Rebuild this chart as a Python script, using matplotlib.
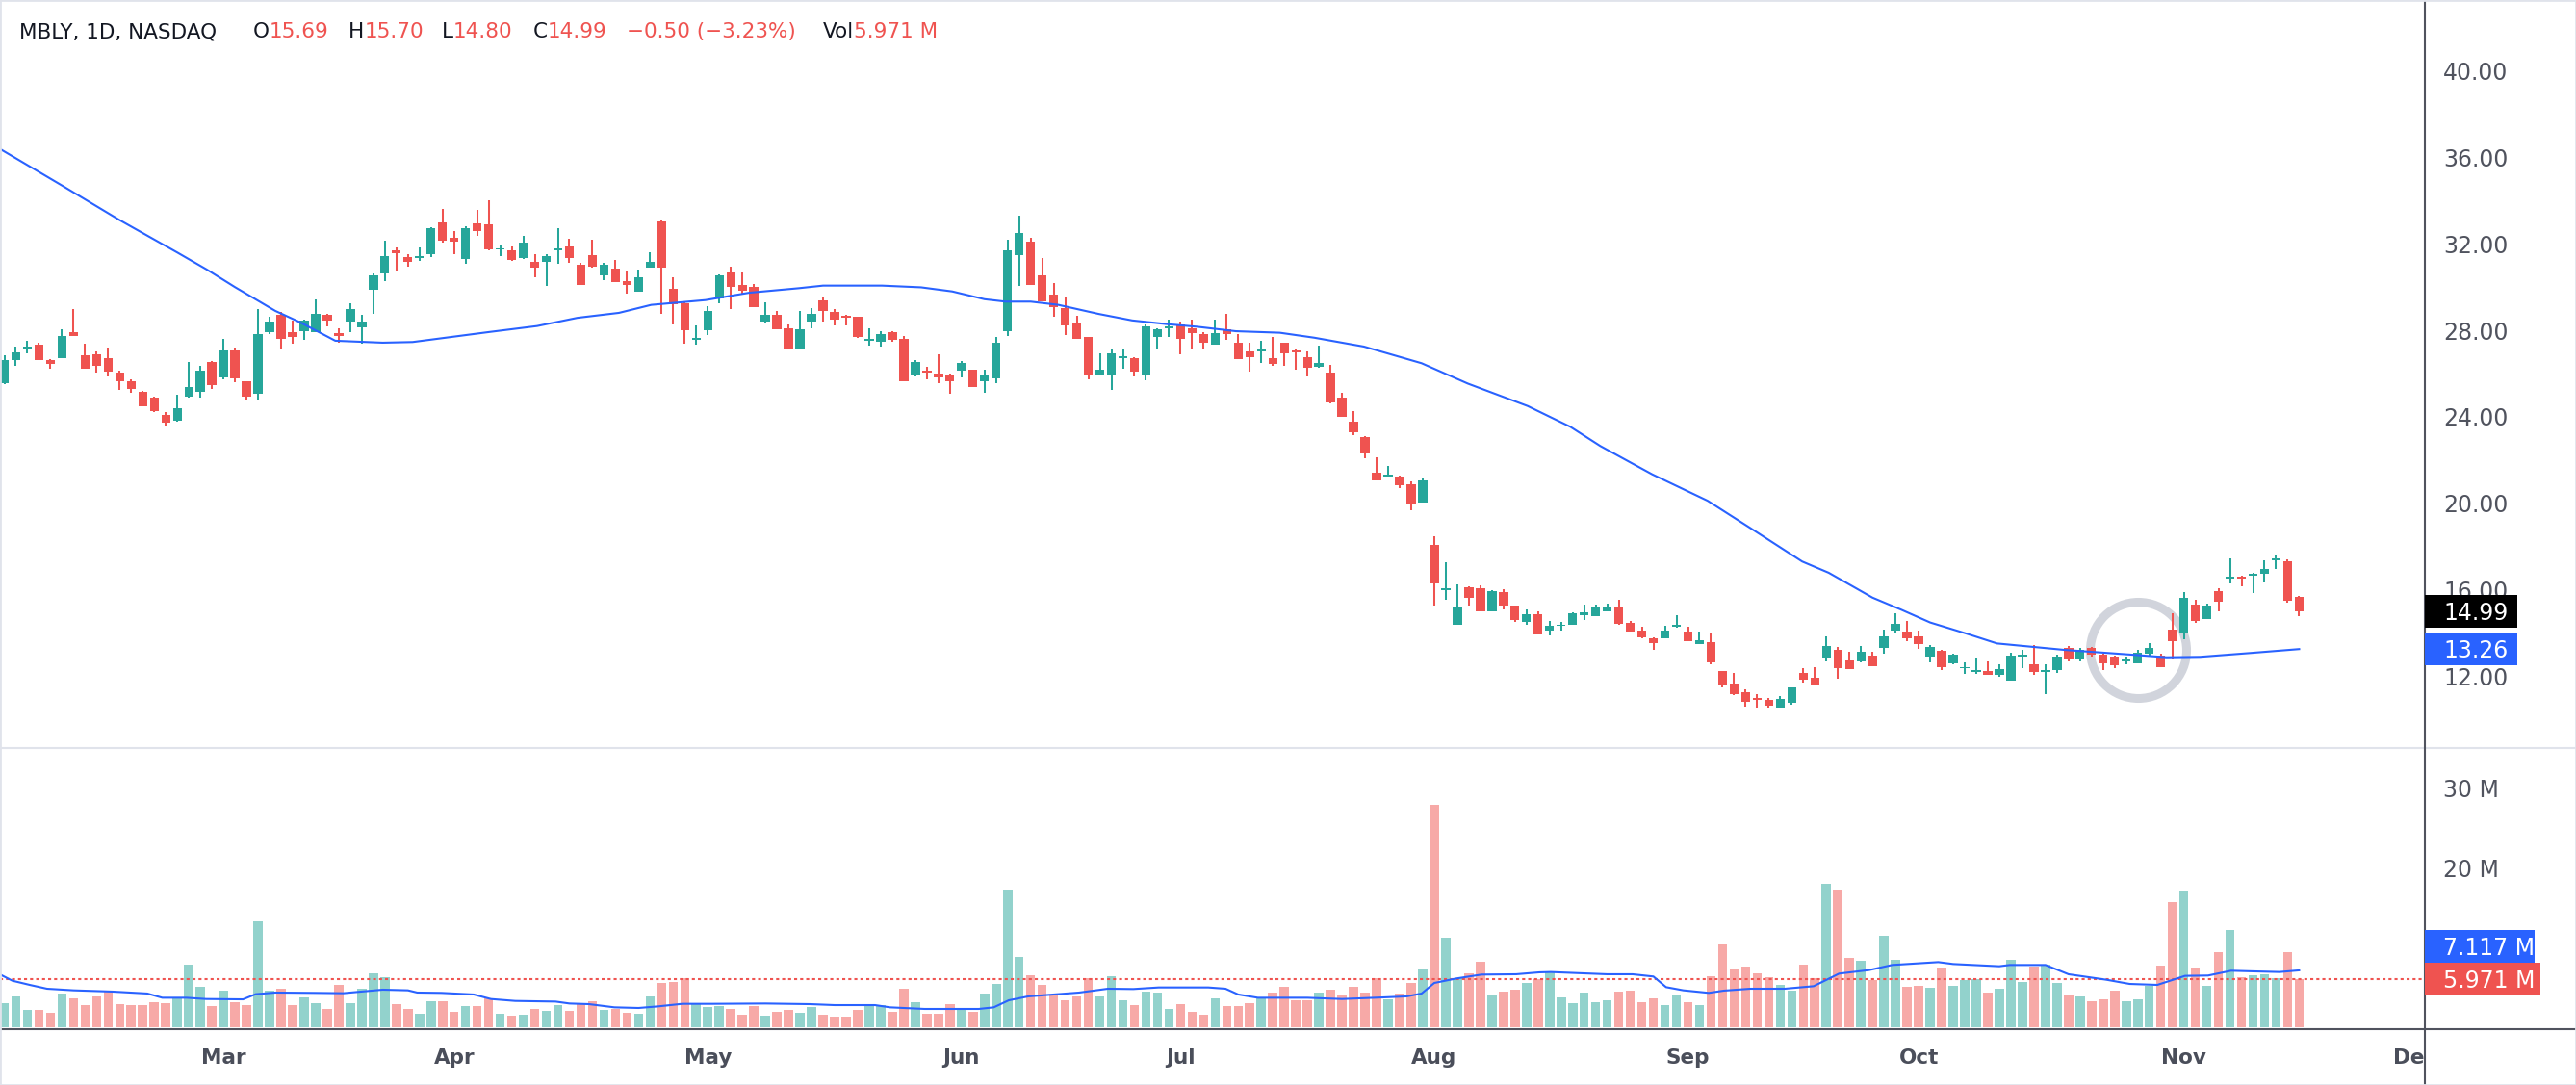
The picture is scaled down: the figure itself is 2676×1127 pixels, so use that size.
import matplotlib
matplotlib.use('Agg')
import matplotlib.pyplot as plt
from matplotlib.lines import Line2D
from matplotlib.patches import Rectangle
import numpy as np
import pandas as pd

W, H, DPI = 2676, 1127, 100

# --- data (MBLY daily) ---
holidays = ['2024-02-19', '2024-03-29', '2024-05-27', '2024-06-19',
            '2024-07-04', '2024-09-02', '2024-11-28']
dates = pd.bdate_range('2024-02-02', '2024-11-15', freq='C', holidays=holidays)
future = pd.bdate_range('2024-11-18', '2024-12-31', freq='C', holidays=holidays)

opens = [
    25.54, 26.61, 27.13, 27.34, 26.61, 26.73, 27.92, 26.85, 26.89, 26.71,
    26.05, 25.65, 25.16, 24.89, 24.09, 23.84, 24.93, 25.17, 26.55, 25.84,
    27.07, 25.65, 25.08, 27.92, 28.72, 27.92, 27.95, 27.90, 28.72, 27.87,
    28.42, 28.14, 29.89, 30.65, 31.70, 31.37, 31.35, 31.54, 32.99, 32.28,
    31.31, 32.95, 32.90, 31.73, 31.70, 31.35, 31.17, 31.18, 31.72, 31.88,
    31.03, 31.48, 30.56, 30.85, 30.28, 29.80, 30.91, 33.04, 29.92, 29.25,
    27.58, 28.02, 29.47, 30.68, 30.10, 30.01, 28.42, 28.71, 28.09, 27.17,
    28.42, 29.39, 28.85, 28.67, 28.63, 27.53, 27.49, 27.92, 27.60, 25.93,
    26.14, 26.00, 25.91, 26.15, 26.18, 25.66, 25.79, 27.98, 31.49, 32.10,
    30.54, 29.65, 29.03, 28.32, 27.69, 25.97, 25.97, 26.73, 26.71, 25.93,
    27.71, 28.11, 28.27, 28.09, 27.83, 27.35, 28.05, 27.43, 27.03, 27.04,
    26.71, 27.43, 27.07, 26.76, 26.33, 26.05, 24.90, 23.78, 23.06, 21.42,
    21.25, 21.24, 20.88, 20.05, 18.08, 16.00, 14.40, 16.12, 16.07, 15.02,
    15.90, 15.27, 14.53, 14.87, 14.13, 14.32, 14.40, 14.84, 14.80, 15.02,
    15.23, 14.47, 14.11, 13.77, 13.77, 14.31, 14.07, 13.51, 13.58, 12.23,
    11.66, 11.25, 11.00, 10.92, 10.57, 10.78, 12.16, 11.93, 12.88, 13.22,
    12.74, 12.70, 12.96, 13.33, 14.13, 14.07, 13.85, 12.93, 13.18, 12.62,
    12.36, 12.22, 12.25, 12.08, 11.82, 12.90, 12.56, 12.19, 12.30, 13.31,
    12.84, 13.31, 13.02, 12.91, 12.71, 12.62, 13.05, 12.96, 14.16, 14.00,
    15.32, 14.66, 15.94, 16.53, 16.61, 16.67, 16.76, 17.37, 17.32, 15.69]
highs = [
    26.83, 27.25, 27.52, 27.43, 26.65, 28.05, 28.99, 27.38, 27.03, 27.20,
    26.14, 25.73, 25.22, 24.93, 24.22, 25.02, 26.54, 26.36, 26.58, 27.60,
    27.20, 25.65, 28.99, 28.63, 28.87, 28.45, 28.50, 29.43, 28.76, 28.09,
    29.27, 28.72, 30.63, 32.15, 31.83, 31.52, 31.83, 32.78, 33.62, 32.59,
    32.81, 33.57, 34.02, 31.97, 31.88, 32.37, 31.52, 31.52, 32.73, 32.24,
    31.12, 32.19, 31.12, 31.26, 30.77, 30.81, 31.61, 33.08, 30.45, 29.34,
    28.21, 29.10, 30.59, 30.94, 30.68, 30.14, 29.30, 28.88, 28.27, 28.88,
    29.03, 29.50, 28.97, 28.72, 28.63, 28.08, 27.96, 27.96, 27.74, 26.63,
    26.31, 26.89, 26.00, 26.58, 26.18, 26.18, 27.69, 32.19, 33.30, 32.28,
    31.34, 30.19, 29.52, 28.67, 27.69, 26.94, 27.16, 27.11, 26.76, 28.27,
    28.09, 28.49, 28.40, 28.49, 27.92, 28.49, 28.76, 27.83, 27.43, 27.52,
    27.69, 27.43, 27.16, 27.03, 27.29, 26.40, 25.11, 24.27, 23.11, 22.13,
    21.73, 21.28, 21.02, 21.15, 18.48, 17.28, 16.27, 16.16, 16.21, 16.00,
    16.03, 15.27, 15.09, 15.01, 14.56, 14.53, 14.96, 15.32, 15.32, 15.36,
    15.54, 14.56, 14.29, 13.82, 14.34, 14.83, 14.29, 14.07, 13.98, 12.26,
    12.16, 11.40, 11.18, 11.00, 11.09, 11.49, 12.38, 12.42, 13.85, 13.36,
    13.14, 13.40, 13.14, 14.16, 14.92, 14.56, 14.11, 13.46, 13.22, 13.05,
    12.64, 12.87, 12.69, 12.56, 13.09, 13.22, 13.45, 12.56, 13.00, 13.40,
    13.31, 13.36, 13.06, 12.96, 12.93, 13.22, 13.54, 13.05, 14.90, 15.90,
    15.54, 15.36, 16.07, 17.46, 16.65, 16.79, 17.37, 17.63, 17.41, 15.70]
lows = [
    25.50, 26.36, 26.92, 26.62, 26.24, 26.73, 27.74, 26.24, 26.06, 25.88,
    25.26, 25.13, 24.50, 24.24, 23.57, 23.79, 24.87, 24.90, 25.30, 25.75,
    25.62, 24.81, 24.81, 27.84, 27.17, 27.40, 27.58, 27.90, 28.20, 27.44,
    27.93, 27.40, 28.78, 30.29, 30.74, 30.96, 31.23, 31.40, 32.07, 31.54,
    31.09, 32.38, 31.70, 31.45, 31.23, 31.30, 30.47, 30.07, 31.09, 31.14,
    30.11, 30.91, 30.34, 30.25, 29.71, 29.80, 30.91, 28.78, 28.29, 27.40,
    27.35, 27.80, 29.25, 29.00, 29.70, 29.09, 28.32, 28.06, 27.13, 27.17,
    28.11, 28.42, 28.24, 28.24, 27.65, 27.31, 27.26, 27.49, 25.66, 25.88,
    25.75, 25.57, 25.08, 25.84, 25.39, 25.13, 25.57, 27.75, 30.07, 30.11,
    29.36, 28.64, 27.80, 27.62, 25.75, 25.97, 25.26, 26.24, 25.88, 25.70,
    27.17, 27.71, 26.91, 27.17, 27.17, 27.35, 27.57, 26.69, 26.11, 26.51,
    26.37, 26.37, 26.20, 25.88, 26.28, 24.64, 24.01, 23.17, 22.10, 21.08,
    21.25, 20.72, 19.70, 20.05, 15.29, 15.55, 14.40, 15.29, 14.99, 15.02,
    15.09, 14.53, 14.40, 13.95, 13.91, 14.13, 14.40, 14.62, 14.80, 15.02,
    14.40, 14.09, 13.76, 13.24, 13.77, 14.26, 13.64, 13.51, 12.56, 11.49,
    11.15, 10.61, 10.57, 10.57, 10.57, 10.70, 11.71, 11.64, 12.70, 11.90,
    12.35, 12.66, 12.48, 13.06, 13.99, 13.64, 13.28, 12.66, 12.30, 12.56,
    12.12, 12.13, 12.08, 11.99, 11.82, 12.39, 12.08, 11.19, 12.17, 12.70,
    12.70, 12.93, 12.30, 12.39, 12.57, 12.62, 12.93, 12.44, 12.80, 13.73,
    14.49, 14.66, 15.02, 16.31, 16.18, 15.87, 16.36, 16.98, 15.42, 14.80]
closes = [
    26.61, 26.98, 27.25, 26.62, 26.46, 27.74, 27.74, 26.24, 26.37, 26.11,
    25.66, 25.30, 24.50, 24.27, 23.75, 24.40, 25.38, 26.14, 25.48, 27.07,
    25.79, 24.95, 27.83, 28.41, 27.62, 27.71, 28.45, 28.76, 28.47, 27.75,
    28.99, 28.41, 30.54, 31.43, 31.58, 31.18, 31.43, 32.73, 32.15, 32.12,
    32.73, 32.61, 31.75, 31.79, 31.27, 32.06, 30.91, 31.43, 31.79, 31.36,
    30.11, 30.96, 31.03, 30.25, 30.11, 30.45, 31.17, 30.91, 29.22, 28.02,
    27.65, 28.88, 30.54, 30.02, 29.83, 29.09, 28.71, 28.06, 27.13, 28.05,
    28.76, 28.91, 28.51, 28.60, 27.69, 27.59, 27.83, 27.57, 25.66, 26.54,
    26.06, 25.84, 25.66, 26.49, 25.39, 25.96, 27.43, 31.70, 32.50, 30.11,
    29.36, 29.09, 28.24, 27.62, 25.97, 26.18, 26.94, 26.80, 26.11, 28.18,
    28.05, 28.18, 27.62, 27.89, 27.44, 27.87, 27.84, 26.69, 26.77, 27.11,
    26.46, 26.95, 27.00, 26.28, 26.49, 24.68, 24.01, 23.30, 22.32, 21.08,
    21.33, 20.85, 20.01, 21.06, 16.31, 16.09, 15.23, 15.64, 14.99, 15.96,
    15.27, 14.62, 14.87, 13.95, 14.34, 14.40, 14.92, 14.96, 15.23, 15.23,
    14.43, 14.09, 13.80, 13.55, 14.11, 14.40, 13.64, 13.67, 12.66, 11.58,
    11.19, 10.84, 10.92, 10.63, 10.95, 11.49, 11.86, 11.64, 13.40, 12.39,
    12.35, 13.14, 12.48, 13.85, 14.43, 13.74, 13.47, 13.35, 12.44, 13.00,
    12.43, 12.29, 12.08, 12.33, 12.96, 12.97, 12.20, 12.26, 12.91, 12.84,
    13.22, 13.02, 12.62, 12.53, 12.80, 13.09, 13.31, 12.44, 13.64, 15.63,
    14.58, 15.27, 15.47, 16.61, 16.53, 16.74, 16.96, 17.44, 15.49, 14.99]
# volume in millions
volumes = [
    2.97, 3.82, 2.13, 2.13, 1.77, 4.18, 3.57, 2.73, 3.82, 4.42,
    2.85, 2.73, 2.73, 3.09, 2.97, 3.57, 7.79, 5.02, 2.61, 4.54,
    3.09, 2.73, 13.21, 4.54, 4.78, 2.73, 3.69, 2.97, 2.25, 5.26,
    2.97, 4.78, 6.71, 6.22, 2.85, 2.25, 1.65, 3.21, 3.21, 1.89,
    2.61, 2.61, 3.57, 1.65, 1.41, 1.53, 2.25, 2.01, 2.73, 2.01,
    2.97, 3.21, 2.13, 2.25, 1.77, 1.65, 3.82, 5.50, 5.62, 6.10,
    2.85, 2.49, 2.61, 2.25, 1.53, 2.61, 1.41, 1.89, 2.13, 1.77,
    2.49, 1.53, 1.29, 1.29, 2.13, 2.73, 2.73, 1.89, 4.78, 3.09,
    1.65, 1.65, 2.85, 2.25, 1.89, 4.18, 5.38, 17.19, 8.76, 6.47,
    5.26, 4.06, 3.33, 3.82, 6.10, 3.82, 6.35, 3.33, 2.73, 4.42,
    4.30, 2.25, 2.85, 1.89, 1.53, 3.57, 2.61, 2.61, 2.97, 3.57,
    4.30, 5.02, 3.33, 3.33, 4.30, 4.66, 4.06, 5.02, 4.30, 6.10,
    3.45, 4.18, 5.50, 7.31, 27.79, 11.16, 6.10, 6.71, 8.15, 4.06,
    4.42, 4.66, 5.50, 5.98, 6.95, 3.69, 2.97, 4.30, 3.09, 3.33,
    4.42, 4.54, 3.09, 3.57, 2.73, 3.94, 3.09, 2.73, 6.35, 10.32,
    7.19, 7.55, 6.71, 6.22, 5.26, 4.54, 7.79, 6.10, 17.91, 17.19,
    8.63, 8.27, 5.86, 11.41, 8.39, 5.02, 5.14, 4.90, 7.43, 5.14,
    5.86, 5.98, 4.30, 4.78, 8.39, 5.62, 7.55, 7.79, 5.50, 3.94,
    3.82, 3.21, 3.45, 4.54, 3.21, 3.45, 5.14, 7.67, 15.62, 16.95,
    7.43, 5.14, 9.36, 12.13, 6.22, 6.47, 6.59, 6.10, 9.36, 5.971]

# moving average of price, sampled off the chart (x = bar index)
ma_x = [-0.4, 5, 10, 15, 17.6, 20, 23.5, 25.7, 28.7, 32.8, 35.4, 38.7, 42, 46.2,
        49.7, 53.3, 56.1, 60.8, 64.6, 68.9, 71.0, 76.1, 79.5, 82.2, 85.0, 86.8,
        89.0, 91.4, 94.9, 97.8, 100.8, 103.4, 106.8, 110.6, 113.6, 117.9, 122.9,
        126.9, 132.1, 135.8, 138.4, 142.9, 147.7, 151.4, 155.9, 158.2, 162.0,
        164.5, 167.0, 170.0, 172.8, 178.7, 184.5, 187.5, 190.4, 194.8, 199]
ma_price = [36.4, 34.7, 33.1, 31.6, 30.8, 30.0, 28.9, 28.36, 27.52, 27.43, 27.46,
            27.69, 27.92, 28.2, 28.58, 28.81, 29.18, 29.40, 29.74, 29.95, 30.07,
            30.07, 29.99, 29.80, 29.44, 29.33, 29.33, 29.18, 28.76, 28.46, 28.29,
            28.17, 27.96, 27.89, 27.66, 27.25, 26.48, 25.54, 24.50, 23.54, 22.65,
            21.34, 20.12, 18.86, 17.31, 16.79, 15.64, 15.08, 14.49, 14.0, 13.52,
            13.22, 13.00, 12.88, 12.90, 13.08, 13.26]
# moving average of volume (millions)
vma_x = [-0.4, 0.7, 2.2, 3.7, 6.0, 9.4, 12.4, 13.7, 15.8, 17.5, 20.7, 21.8, 23.5,
         26.9, 29.4, 32.8, 35.0, 35.8, 37.9, 40.7, 42.2, 44.3, 47.8, 49.0, 50.7,
         52.9, 55.0, 56.7, 58.8, 61.4, 66.0, 69.9, 72.0, 75.5, 76.8, 79.8, 84.5,
         85.8, 87.1, 88.8, 93.2, 95.7, 97.9, 100.1, 104.4, 105.9, 107.0, 108.7,
         113.0, 116.0, 119.5, 121.6, 122.9, 124.0, 125.9, 128.1, 131.1, 133.1,
         134.1, 139.0, 141.2, 143.0, 144.1, 145.6, 147.8, 149.1, 151.4, 154.4,
         156.9, 159.1, 161.7, 163.7, 167.7, 169.0, 173.0, 173.9, 177.0, 179.0,
         182.3, 184.3, 186.7, 189.1, 191.1, 193.1, 195.1, 197.3, 199.0]
vma_vol = [6.63, 5.82, 5.30, 4.82, 4.62, 4.46, 4.22, 3.69, 3.69, 3.53, 3.49, 4.14,
           4.34, 4.30, 4.26, 4.70, 4.62, 4.34, 4.30, 4.10, 3.53, 3.29, 3.21, 2.97,
           2.89, 2.49, 2.41, 2.61, 2.93, 2.93, 2.97, 2.89, 2.77, 2.77, 2.49, 2.29,
           2.29, 2.49, 3.37, 3.86, 4.34, 4.82, 4.78, 4.98, 4.98, 4.82, 4.10, 3.69,
           3.69, 3.53, 3.73, 3.86, 4.22, 5.54, 6.10, 6.59, 6.63, 6.87, 6.91, 6.63,
           6.63, 6.35, 5.02, 4.62, 4.30, 4.58, 4.82, 4.82, 5.14, 6.71, 7.15, 7.79,
           8.15, 7.91, 7.63, 7.79, 7.79, 6.63, 5.94, 5.42, 5.30, 6.43, 6.47, 7.07,
           6.99, 6.91, 7.117]

last_price, last_ma = 14.99, 13.26
last_vol, last_vma = 5.971, 7.117
price_ticks = [12, 16, 20, 24, 28, 32, 36, 40]
vol_ticks = [20, 30]
circle_idx, circle_price = 185.0, 13.22
header = [("MBLY, 1D, NASDAQ", "", 20), ("O", "15.69", 263), ("H", "15.70", 362),
          ("L", "14.80", 459), ("C", "14.99", 554), ("", "\u22120.50 (\u22123.23%)", 651),
          ("Vol", "5.971 M", 855)]

# --- styling ---
TEAL, RED, BLUE = '#26A69A', '#EF5350', '#2962FF'
TEAL_V, RED_V = '#92D2CC', '#F7A9A7'
TXT, SCALE_TXT, DARK_LINE = '#131722', '#50535E', '#50535E'

opens, highs, lows, closes = map(np.array, (opens, highs, lows, closes))
volumes = np.array(volumes)
x = np.arange(len(dates))
up = closes >= opens

fig = plt.figure(figsize=(W / DPI, H / DPI), dpi=DPI)
fig.patch.set_facecolor('white')

def fy(py):
    return 1 - py / H

AXR = 2519
ax = fig.add_axes([0, fy(777), AXR / W, 777 / H])
axv = fig.add_axes([0, fy(1067), AXR / W, (1067 - 777) / H])
for a in (ax, axv):
    for s in a.spines.values():
        s.set_visible(False)
    a.set_xlim(-0.376, 209.9)
    a.set_xticks([])
    a.yaxis.tick_right()
    a.tick_params(axis='y', length=0, pad=13.7, labelsize=17, labelcolor=SCALE_TXT)

ax.set_ylim(8.683, 43.278)
ax.set_yticks(price_ticks)
ax.set_yticklabels([f'{t:.2f}' for t in price_ticks])
axv.set_ylim(0, 34.94)
axv.set_yticks(vol_ticks)
axv.set_yticklabels([f'{t} M' for t in vol_ticks])

# candles
ccol = np.where(up, TEAL, RED)
body_lo = np.minimum(opens, closes)
body_h = np.maximum(np.abs(closes - opens), 0.08)
ax.vlines(x, lows, highs, colors=ccol, linewidth=1.45, zorder=3)
ax.bar(x, body_h, bottom=body_lo, width=0.78, color=ccol, linewidth=0, zorder=4)
ax.plot(ma_x, ma_price, color=BLUE, lw=1.5, zorder=5)
ax.plot([circle_idx], [circle_price], marker='o', ms=72, mfc='none',
        mec='#D1D4DC', mew=6.5, zorder=1, clip_on=False)

# volume
axv.bar(x, volumes, width=0.8, color=np.where(up, TEAL_V, RED_V), linewidth=0, zorder=2)
axv.plot(vma_x, vma_vol, color=BLUE, lw=1.5, zorder=4)
axv.axhline(last_vol, color=RED, lw=1.5, linestyle=(0, (1.5, 1.5)), zorder=3)

# month labels
all_days = dates.append(future)
months = pd.Series(np.arange(len(all_days)), index=all_days)
firsts = months.groupby([all_days.year, all_days.month]).first()
for idx in firsts.values[1:]:
    if idx > 215:
        break
    xd = ax.transData.transform((idx, 0))[0]
    fig.text(xd / W, fy(1105), all_days[idx].strftime('%b'), ha='center', va='baseline',
             fontsize=15.5, fontweight='bold', color='#4A4E5A', zorder=3)

# cover to clip the partial "Dec" label at the price scale
fig.add_artist(Rectangle((AXR / W, 0), 1 - AXR / W, fy(1070), transform=fig.transFigure,
                         facecolor='white', edgecolor='none', zorder=5))

# frame lines
fig.add_artist(Line2D([0, 1], [fy(777), fy(777)], color='#E0E3EB', lw=1.5, zorder=6))
fig.add_artist(Line2D([0, 1], [fy(1069), fy(1069)], color=DARK_LINE, lw=1.5, zorder=6))
fig.add_artist(Line2D([AXR / W, AXR / W], [0, 1], color=DARK_LINE, lw=1.5, zorder=7))
fig.add_artist(Rectangle((0, 0), 1, 1, transform=fig.transFigure, fill=False,
                         edgecolor='#E0E3EB', lw=2, zorder=8))

# value labels on the scale
def scale_label(axis, value, text, color, right_px, yshift_px=0):
    yd = axis.transData.transform((0, value))[1] + yshift_px
    fig.add_artist(Rectangle((AXR / W, (yd - 17) / H), (right_px - AXR) / W, 34 / H,
                             transform=fig.transFigure, facecolor=color,
                             edgecolor='none', zorder=10))
    fig.text(2538 / W, (yd - 8.6) / H, text, color='white', fontsize=17,
             va='baseline', ha='left', zorder=11)

scale_label(ax, last_price, f'{last_price:.2f}', '#000000', 2615)
scale_label(ax, last_ma, f'{last_ma:.2f}', BLUE, 2615)
scale_label(axv, last_vol, f'{last_vol:.3f} M', RED, 2639)
scale_label(axv, last_vol, f'{last_vma:.3f} M', BLUE, 2633, yshift_px=34)

# header legend
renderer = fig.canvas.get_renderer()
for lab, val, x0 in header:
    xe = x0
    if lab:
        t = fig.text(x0 / W, fy(39), lab, color=TXT, fontsize=15.5, va='baseline')
        xe = t.get_window_extent(renderer).x1
    if val:
        fig.text(xe / W, fy(39), val, color=RED, fontsize=15.5, va='baseline')

fig.savefig('out.png', dpi=DPI, facecolor='white')
